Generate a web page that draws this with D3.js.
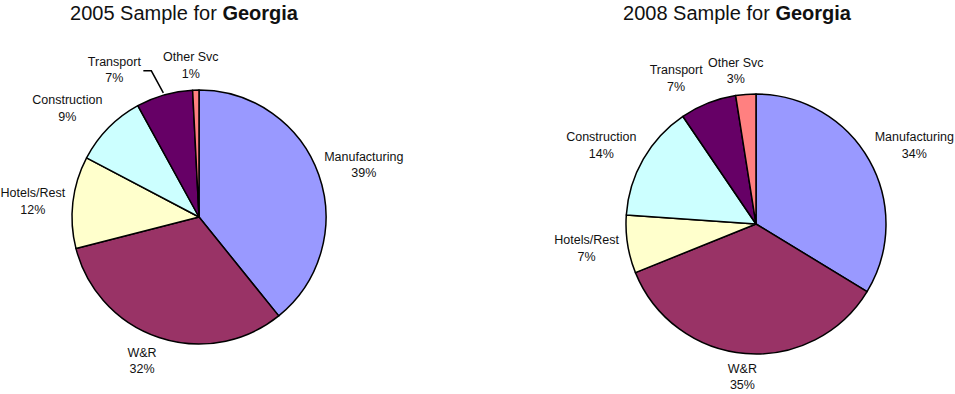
<!DOCTYPE html>
<html><head><meta charset="utf-8">
<script src="https://cdn.jsdelivr.net/npm/d3@7"></script>
<style>
html,body{margin:0;padding:0;background:#fff;}
svg{display:block;}
text{font-family:"Liberation Sans",Arial,sans-serif;fill:#111;}
</style></head>
<body><svg id="c" width="955" height="394"></svg>
<script>
// ---- data ----
const categories = ["Manufacturing","W&R","Hotels/Rest","Construction","Transport","Other Svc"];
const values2005 = [39.2, 31.8, 11.7, 9.3, 7.2, 0.8];
const values2008 = [33.7, 35.2, 7.2, 14.4, 7.0, 2.5];
const years = ["2005","2008"];
const stateName = "Georgia";

// ---- styles / layout ----
const colors = ["#9999FF","#993366","#FFFFCC","#CCFFFF","#660066","#FF8080"];
const charts = [
  {values: values2005, cx: 199, cy: 217, r: 127, titleX: 184,
   offsets: [[45,-10],[-17,23],[-40,-1],[-41,-20],[-50,-25],[-5,-25]], leader: 4},
  {values: values2008, cx: 756, cy: 224, r: 130, titleX: 737,
   offsets: [[45,-15],[-3,23],[-41,4],[-42,-14],[-32,-25],[-10,-24]], leader: -1}
];

const svg = d3.select("#c");
const color = d3.scaleOrdinal().domain(categories).range(colors);
const pie = d3.pie().sort(null).value(d => d.v);

charts.forEach((ch, ci) => {
  const data = categories.map((c, i) => ({c, v: ch.values[i], i}));
  const arcs = pie(data);
  const arc = d3.arc().innerRadius(0).outerRadius(ch.r);
  const g = svg.append("g").attr("transform", `translate(${ch.cx},${ch.cy})`);

  g.selectAll("path.slice").data(arcs).enter().append("path")
    .attr("class","slice")
    .attr("d", arc)
    .attr("fill", d => color(d.data.c))
    .attr("stroke", "#000")
    .attr("stroke-width", 1.5)
    .attr("stroke-linejoin","round");

  arcs.forEach((a, i) => {
    const mid = (a.startAngle + a.endAngle) / 2;
    const px = ch.r * Math.sin(mid), py = -ch.r * Math.cos(mid);
    const lx = px + ch.offsets[i][0], ly = py + ch.offsets[i][1];
    const t = g.append("text").attr("text-anchor","middle").attr("font-size", 12.5);
    t.append("tspan").attr("x", lx).attr("y", ly - 8.25).attr("dy","0.35em").text(a.data.c);
    t.append("tspan").attr("x", lx).attr("y", ly + 8.25).attr("dy","0.35em")
      .text(Math.round(a.data.v) + "%");
    if (i === ch.leader) {
      const ex = lx + 29, ey = ly + 1;
      g.append("path")
        .attr("d", d3.line()([[px - 1, py - 2], [ex + 8, ey], [ex, ey]]))
        .attr("fill","none").attr("stroke","#000").attr("stroke-width",1.5);
    }
  });

  const title = svg.append("text").attr("x", ch.titleX).attr("y", 20)
    .attr("text-anchor","middle").attr("font-size", 20);
  title.append("tspan").text(years[ci] + " Sample for ");
  title.append("tspan").attr("font-weight","bold").text(stateName);
});
</script>
</body></html>
